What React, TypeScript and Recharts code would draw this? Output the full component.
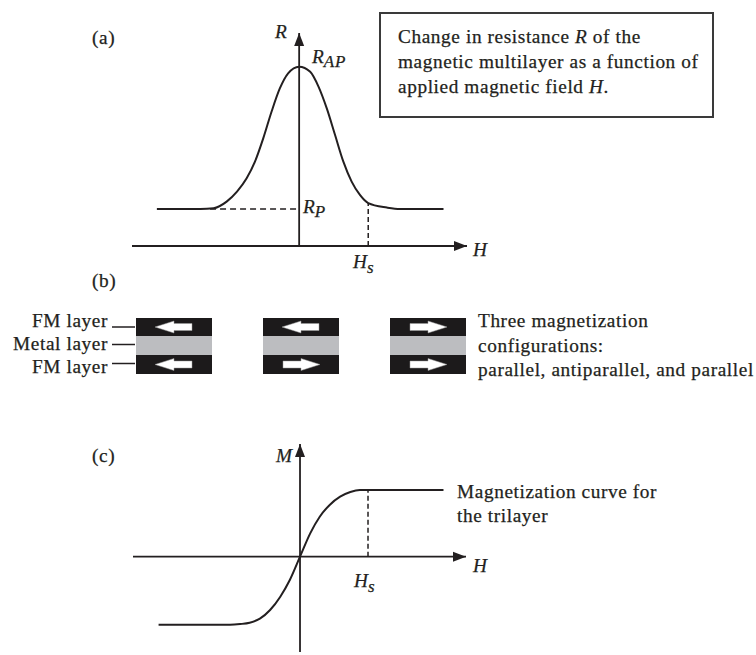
import React from "react";
import { Bar, BarChart, Line, LineChart, ReferenceDot, ReferenceLine, XAxis, YAxis } from "recharts";

const INK = "#231f20";
const SERIF = "'Liberation Serif', 'Times New Roman', serif";

// (a) resistance vs applied field, H in units of Hs, R in units of R_P
const rField = [-2.06, -1.43, -1.24, -1.05, -0.9, -0.76, -0.64, -0.52, -0.4, -0.28, -0.16, 0, 0.16, 0.28, 0.4, 0.52, 0.64, 0.76, 0.88, 1.0, 1.27, 1.46, 2.09];
const rValues = [1.0, 1.0, 1.02, 1.2, 1.47, 1.83, 2.28, 2.91, 3.63, 4.26, 4.67, 4.85, 4.71, 4.31, 3.72, 3.0, 2.28, 1.74, 1.38, 1.16, 1.04, 1.0, 1.0];
const rDashFrom = -1.29;

// (c) magnetization vs applied field, M in units of Ms
const mField = [-2.08, -1.03, -0.88, -0.74, -0.59, -0.44, -0.29, -0.15, 0, 0.15, 0.29, 0.44, 0.59, 0.74, 0.88, 2.11];
const mValues = [-1.02, -1.02, -1.01, -0.99, -0.93, -0.8, -0.6, -0.35, 0, 0.35, 0.6, 0.78, 0.9, 0.97, 1.0, 1.0];

const HS = 1;
const R_P = 1;

// (b) trilayer stacks
const configs = ["parallel", "antiparallel", "parallel"];
const topArrows = ["left", "left", "right"];
const bottomArrows = ["left", "right", "right"];
const layerThickness = { top: 18, metal: 19, bottom: 19 };

const rData = rField.map((h, i) => ({ h, r: rValues[i] }));
const mData = mField.map((h, i) => ({ h, m: mValues[i] }));
const rAtHs = rValues[rField.indexOf(HS)];
const mSat = mValues[mValues.length - 1];
const stackData = configs.map((c, i) => ({
  key: `${i}-${c}`,
  bottom: layerThickness.bottom,
  metal: layerThickness.metal,
  top: layerThickness.top,
  topDir: topArrows[i],
  bottomDir: bottomArrows[i],
}));
const stackHeight = layerThickness.top + layerThickness.metal + layerThickness.bottom;

const arrowRight = (p: any) => (
  <polygon points={`${p.cx},${p.cy} ${p.cx - 13},${p.cy - 5} ${p.cx - 13},${p.cy + 5}`} fill={INK} />
);
const arrowUp = (p: any) => (
  <polygon points={`${p.cx},${p.cy} ${p.cx - 5},${p.cy + 13} ${p.cx + 5},${p.cy + 13}`} fill={INK} />
);

function fmLayer(which: "topDir" | "bottomDir") {
  return (props: any) => {
    const { x, y, width, height, payload, index } = props;
    const dir = payload?.[which] ?? stackData[index][which];
    const cx = x + width / 2;
    const cy = y + height / 2;
    const s = dir === "left" ? -1 : 1;
    const pts = [[19, 0], [0, 6], [0, 3.5], [-18, 3.5], [-18, -3.5], [0, -3.5], [0, -6]]
      .map(([dx, dy]) => `${cx + s * dx},${cy + dy}`)
      .join(" ");
    return (
      <g>
        <rect x={x} y={y} width={width} height={height} fill="#1c1a1b" />
        <polygon points={pts} fill="#fff" stroke="#9a9a9a" strokeWidth={0.5} />
      </g>
    );
  };
}

const txt = { fontFamily: SERIF, fontSize: 19.3, fill: INK, stroke: INK, strokeWidth: 0.25, letterSpacing: 0.6 } as const;
const ital = { ...txt, fontStyle: "italic" as const, letterSpacing: 0 };
const sub = { fontSize: 17, letterSpacing: 0.8 };

export default function App() {
  return (
    <div style={{ position: "absolute", left: 0, top: 0, width: 756, height: 655, background: "#fff", overflow: "hidden" }}>
      <div style={{ position: "absolute", left: 122, top: 23 }}>
        <LineChart width={355} height={233} data={rData} margin={{ top: 10, right: 10, bottom: 10, left: 10 }}>
          <XAxis type="number" dataKey="h" domain={[-2.42, 2.43]} allowDataOverflow hide />
          <YAxis type="number" domain={[0, 5.76]} allowDataOverflow hide />
          <ReferenceLine y={0} stroke={INK} strokeWidth={1.8} />
          <ReferenceLine x={0} stroke={INK} strokeWidth={1.8} />
          <ReferenceLine segment={[{ x: rDashFrom, y: R_P }, { x: 0, y: R_P }]} stroke={INK} strokeWidth={1.5} strokeDasharray="6 4" />
          <ReferenceLine segment={[{ x: HS, y: 0 }, { x: HS, y: rAtHs }]} stroke={INK} strokeWidth={1.5} strokeDasharray="5 3" />
          <Line type="monotone" dataKey="r" stroke={INK} strokeWidth={2} dot={false} isAnimationActive={false} />
          <ReferenceDot x={2.43} y={0} shape={arrowRight} />
          <ReferenceDot x={0} y={5.76} shape={arrowUp} />
        </LineChart>
      </div>

      <div style={{ position: "absolute", left: 110, top: 318 }}>
        <BarChart width={381} height={stackHeight} data={stackData} margin={{ top: 0, right: 0, bottom: 0, left: 0 }} barCategoryGap={0}>
          <XAxis dataKey="key" type="category" hide />
          <YAxis type="number" domain={[0, stackHeight]} allowDataOverflow hide />
          <Bar dataKey="bottom" stackId="s" barSize={76} shape={fmLayer("bottomDir")} isAnimationActive={false} />
          <Bar dataKey="metal" stackId="s" barSize={76} fill="#bcbdc0" isAnimationActive={false} />
          <Bar dataKey="top" stackId="s" barSize={76} shape={fmLayer("topDir")} isAnimationActive={false} />
        </BarChart>
      </div>

      <div style={{ position: "absolute", left: 123, top: 434 }}>
        <LineChart width={353} height={228} data={mData} margin={{ top: 10, right: 10, bottom: 10, left: 10 }}>
          <XAxis type="number" dataKey="h" domain={[-2.456, 2.441]} allowDataOverflow hide />
          <YAxis type="number" domain={[-1.429, 1.69]} allowDataOverflow hide />
          <ReferenceLine y={0} stroke={INK} strokeWidth={1.8} />
          <ReferenceLine x={0} stroke={INK} strokeWidth={1.8} />
          <ReferenceLine segment={[{ x: HS, y: 0 }, { x: HS, y: mSat }]} stroke={INK} strokeWidth={1.5} strokeDasharray="5 3" />
          <Line type="monotone" dataKey="m" stroke={INK} strokeWidth={2} dot={false} isAnimationActive={false} />
          <ReferenceDot x={2.441} y={0} shape={arrowRight} />
          <ReferenceDot x={0} y={1.69} shape={arrowUp} />
        </LineChart>
      </div>

      <svg width={756} height={655} style={{ position: "absolute", left: 0, top: 0, pointerEvents: "none" }}>
        {/* (a) */}
        <text x={92} y={44} style={txt}>(a)</text>
        <text x={275} y={38} style={ital}>R</text>
        <text x={312} y={63} style={ital}>R<tspan dy={4} style={sub}>AP</tspan></text>
        <text x={303} y={213} style={ital}>R<tspan dy={4} style={sub}>P</tspan></text>
        <text x={473} y={256} style={ital}>H</text>
        <text x={353} y={268} style={ital}>H<tspan dy={5} style={sub}>s</tspan></text>
        <rect x={380} y={13} width={333} height={104} fill="none" stroke="#3a3a3a" strokeWidth={2} />
        <text x={398} y={43} style={txt}>Change in resistance <tspan fontStyle="italic">R</tspan> of the</text>
        <text x={398} y={68} style={txt}>magnetic multilayer as a function of</text>
        <text x={398} y={93} style={txt}>applied magnetic field <tspan fontStyle="italic">H</tspan>.</text>

        {/* (b) */}
        <text x={92} y={287} style={txt}>(b)</text>
        <text x={108} y={327} textAnchor="end" style={txt}>FM layer</text>
        <text x={108} y={350} textAnchor="end" style={txt}>Metal layer</text>
        <text x={108} y={373} textAnchor="end" style={txt}>FM layer</text>
        <line x1={112} y1={327} x2={135} y2={327} stroke={INK} strokeWidth={1.5} />
        <line x1={112} y1={344.5} x2={135} y2={344.5} stroke={INK} strokeWidth={1.5} />
        <line x1={112} y1={363.5} x2={135} y2={363.5} stroke={INK} strokeWidth={1.5} />
        <text x={478} y={327} style={txt}>Three magnetization</text>
        <text x={478} y={351.5} style={txt}>configurations:</text>
        <text x={478} y={375.5} style={txt}>parallel, antiparallel, and parallel</text>

        {/* (c) */}
        <text x={92} y={462} style={txt}>(c)</text>
        <text x={276} y={462} style={ital}>M</text>
        <text x={473} y={572} style={ital}>H</text>
        <text x={354} y={587} style={ital}>H<tspan dy={5} style={sub}>s</tspan></text>
        <text x={457} y={498} style={txt}>Magnetization curve for</text>
        <text x={457} y={522} style={txt}>the trilayer</text>
      </svg>
    </div>
  );
}
